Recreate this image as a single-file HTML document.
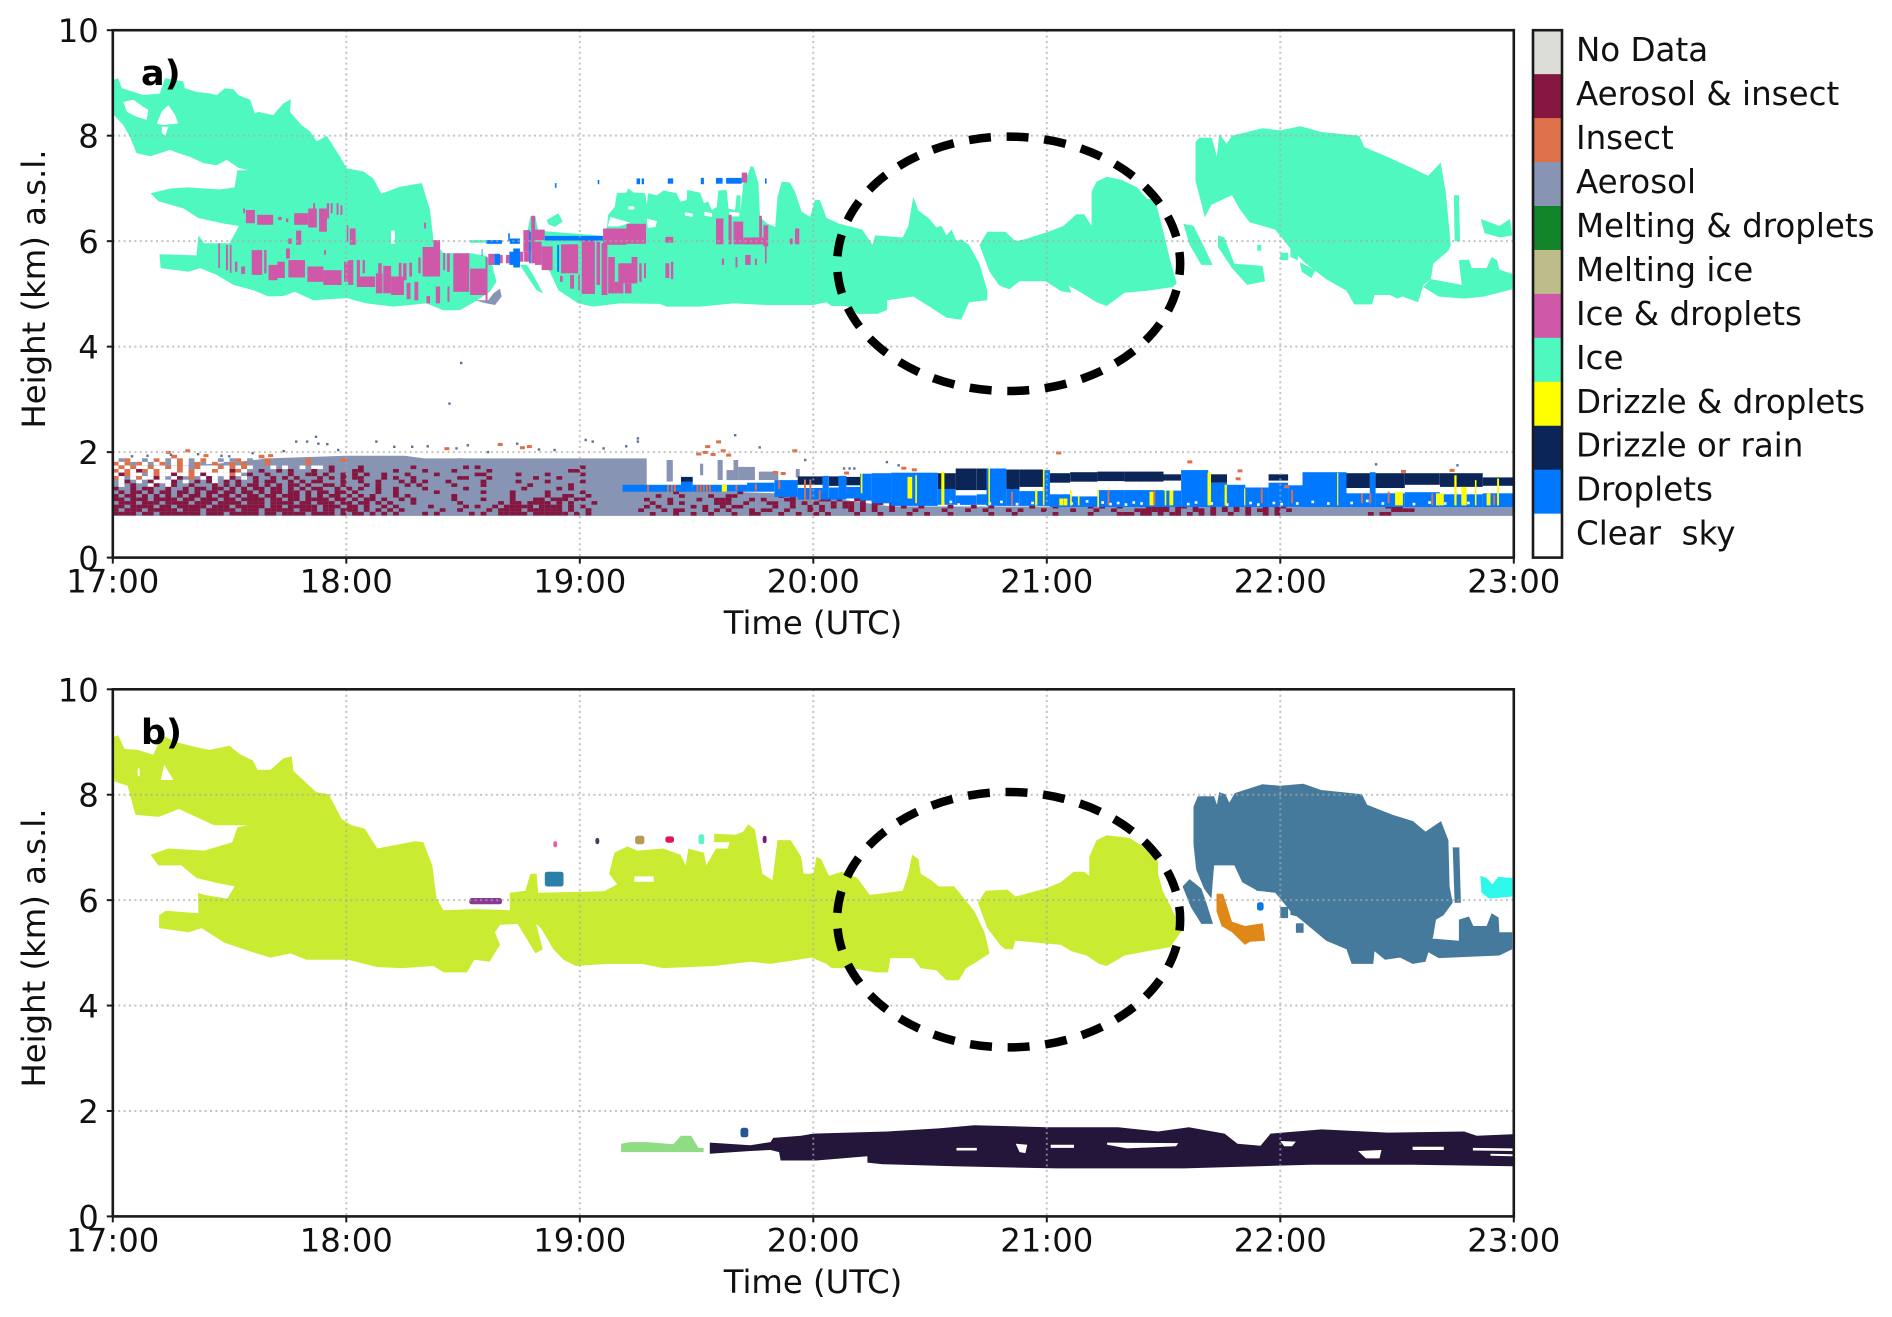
<!DOCTYPE html>
<html lang="en">
<head>
<meta charset="utf-8">
<title>Cloud classification and clusters</title>
<style>
html,body{margin:0;padding:0;background:#fff;}
svg{display:block;font-family:"DejaVu Sans","Liberation Sans",sans-serif;fill:#111;}
text{font-size:32.3px;}
</style>
</head>
<body>
<svg id="figure" xmlns="http://www.w3.org/2000/svg" width="1892" height="1317" viewBox="0 0 1892 1317">
<rect x="0" y="0" width="1892" height="1317" fill="#fff"/>
<g id="panelA"></g>
<g id="panelB"></g>
<g id="legend"></g>
<text x="813" y="634" text-anchor="middle">Time (UTC)</text>
<text x="813" y="1293" text-anchor="middle">Time (UTC)</text>
<text transform="translate(45,289) rotate(-90)" text-anchor="middle">Height (km) a.s.l.</text>
<text transform="translate(45,948) rotate(-90)" text-anchor="middle">Height (km) a.s.l.</text>
</svg>
<script>
/* All times are minutes after 17:00 UTC, all heights are km a.s.l. */
const xTickMinutes = [0, 60, 120, 180, 240, 300, 360];
const xTickLabels = ['17:00', '18:00', '19:00', '20:00', '21:00', '22:00', '23:00'];
const yTickValues = [0, 2, 4, 6, 8, 10];
const yTickLabels = ['0', '2', '4', '6', '8', '10'];
const legendLabels = ['No Data', 'Aerosol & insect', 'Insect', 'Aerosol', 'Melting & droplets', 'Melting ice', 'Ice & droplets', 'Ice', 'Drizzle & droplets', 'Drizzle or rain', 'Droplets', 'Clear  sky'];
const legendColors = ['#dcddd7', '#85163f', '#de704a', '#8794b3', '#12842a', '#bdbc8a', '#cf58a8', '#4ff8bf', '#ffff00', '#0c2558', '#0078ff', '#ffffff'];

/* Panel a: ice outlines */
const iceWest = [[0.3,9.06],[1.4,9.09],[2.3,8.9],[5.3,8.83],[7.8,8.77],[12.1,8.8],[13.4,9.09],[18.1,9.03],[18.5,8.9],[21.5,8.83],[25,8.8],[26.7,8.77],[28.8,8.9],[31,8.88],[32.3,8.77],[35.3,8.68],[36.5,8.42],[37.4,8.45],[41.2,8.39],[43.8,8.61],[45.8,8.69],[45.5,8.45],[48.5,8.2],[50.7,8.08],[52.4,7.89],[55,8.0],[56.5,7.82],[58.4,7.6],[60.1,7.38],[64.4,7.32],[66.9,7.19],[69,6.9],[73.8,7.03],[79.4,7.1],[81.5,6.59],[82.4,6.02],[84.9,5.77],[91.8,5.77],[96,5.72],[97.5,5.57],[97.8,5.45],[98.6,5.23],[96.9,5.04],[93,4.85],[89.2,4.69],[84.9,4.69],[80.6,4.82],[72.1,4.76],[65.2,4.82],[60.1,4.92],[51.5,4.88],[46.8,5.04],[43.8,4.96],[40,4.95],[36.1,5.07],[31,5.17],[26.7,5.36],[22.4,5.49],[19.5,5.42],[12.3,5.49],[12,5.75],[21.5,5.73],[22,6.11],[23.5,5.96],[30,5.96],[32.4,6.29],[28.7,6.33],[22,6.44],[18.2,6.62],[11.7,6.76],[9.7,6.91],[15,7.0],[19.5,7.02],[27.4,6.98],[31.3,7.02],[32,7.34],[34.8,7.35],[32.3,7.39],[29.3,7.54],[26.7,7.44],[23.3,7.48],[19.8,7.6],[16.8,7.67],[14.7,7.73],[9.6,7.61],[6.1,7.67],[4.4,7.98],[2.7,8.2],[0.3,8.39],[0,8.5]];
const iceWestHoleLarge = [[11.3,8.23],[12.6,8.46],[14.3,8.58],[16,8.39],[16.8,8.23],[12.6,8.2]];
const iceWestHoleSmall = [[2.7,8.64],[5.3,8.68],[7.8,8.55],[9.1,8.49],[8.7,8.3],[6.1,8.36],[3.6,8.45]];
const iceWestHoleNotch = [[12.6,8.17],[14.3,8.17],[13.5,8.0],[12.6,8.05]];
const iceWestHoleSlit = [[71.5,6.2],[72.5,6.2],[72.5,5.95],[71.5,5.95]];
const iceCentral = [[110.6,5.55],[107.3,5.82],[106,6.0],[107.3,6.47],[108.6,6.47],[109.3,6.2],[125.9,6.1],[127,6.27],[127.3,6.5],[129,6.65],[129.5,6.91],[131.9,6.92],[132.5,7.0],[133.8,6.92],[136.8,6.91],[137.2,6.69],[137.6,6.91],[139.8,6.87],[141.5,6.96],[144.9,6.91],[145.8,6.75],[147.5,6.78],[147.6,6.97],[150.9,6.92],[151.9,6.72],[153,6.75],[153.9,6.59],[155.2,6.65],[155.6,6.96],[157.7,6.97],[158.2,6.62],[159.9,6.59],[160.3,6.87],[161.3,6.87],[161.3,6.56],[162,7.1],[163.3,7.29],[163.9,7.42],[164.6,7.41],[165.9,7.1],[166.3,6.46],[168,6.34],[170.2,6.27],[170.8,6.84],[171.9,7.13],[174,7.11],[175.3,6.94],[177,6.56],[179.2,6.46],[180.4,6.78],[181.7,6.78],[183.4,6.44],[186.7,6.33],[192.6,6.22],[195.2,5.93],[195.9,6.11],[203,6.07],[204.4,6.29],[205.7,6.84],[207,6.58],[209.6,6.44],[211.6,6.26],[212.9,6.29],[214.2,6.11],[215.5,6.22],[216.8,6.0],[218,6.04],[220,5.93],[222.7,5.57],[224.7,5.06],[224.7,4.88],[220,4.84],[218,4.51],[214.2,4.55],[209.6,4.77],[205.7,4.95],[199,4.88],[199,4.7],[196.5,4.62],[191.3,4.62],[188.6,4.77],[184.7,4.77],[183.4,4.84],[180,4.79],[168,4.79],[159.5,4.82],[150.9,4.76],[142.3,4.76],[140.6,4.81],[130.3,4.82],[123.5,4.76],[119.6,4.82],[114.5,5.07],[112.3,5.42]];
const iceCentralHole = [[127.8,6.46],[131.6,6.38],[133,6.35],[130,6.28],[127.2,6.28]];
const iceCentralHoleTwo = [[137.2,6.43],[139.8,6.38],[139.5,6.27],[137.5,6.25]];
const iceCentralHoleThree = [[152,6.56],[154,6.53],[154,6.46],[152,6.48]];
const iceCentralHoleFour = [[158.3,6.56],[161,6.54],[161,6.47],[158.5,6.47]];
const iceCentralHoleFive = [[132.5,6.66],[134,6.66],[134,6.6],[132.5,6.6]];
const iceCentralHoleSix = [[147,6.55],[149,6.52],[149,6.46],[147,6.48]];
const iceEast = [[222.7,5.93],[224.7,6.18],[229.3,6.18],[232,6.0],[234.5,6.04],[240.4,6.18],[244.3,6.29],[247.6,6.51],[249.6,6.51],[251.5,6.29],[251.5,6.94],[252.8,7.13],[255.4,7.22],[259.3,7.16],[263.2,7.02],[265.8,6.8],[267.8,6.8],[269.8,6.22],[271.7,5.64],[273.4,5.2],[272.4,5.13],[265.8,5.06],[260,5.02],[255.4,4.77],[252.8,4.84],[248.9,5.02],[245.6,5.16],[246.3,5.02],[243.7,5.05],[239.7,5.24],[233,5.24],[230.4,5.09],[227.8,5.16],[225.3,5.42]];
const iceFar = [[278.2,7.88],[279.2,7.96],[282.4,7.96],[283.7,7.6],[284.3,8.03],[286.2,7.85],[287.6,8.0],[295.4,8.14],[300,8.1],[305.2,8.18],[310.5,8.07],[320.3,8.0],[321.6,7.78],[327.5,7.6],[334,7.38],[338,7.24],[341.2,7.49],[342.5,6.94],[343.8,5.93],[343.2,5.82],[339.3,5.57],[338.7,5.28],[336.8,5.17],[335.4,4.84],[331.4,4.95],[330.1,4.91],[328.2,4.98],[324.2,4.98],[323.6,4.8],[319,4.8],[317,5.06],[311.8,5.28],[306.6,5.57],[302.6,5.86],[298.7,6.22],[292.1,6.36],[289.5,6.62],[287.6,6.87],[282.3,6.69],[280.6,6.45],[279.8,6.69],[278.2,7.14]];
const iceFarLobe = [[338.7,5.28],[346.6,5.17],[345.9,5.64],[348.5,5.65],[349.2,5.49],[353,5.49],[354.3,5.7],[355.7,5.64],[356.3,5.46],[359.6,5.38],[359.6,5.09],[352.4,4.95],[347.2,4.91],[340.7,4.95],[336.7,5.13]];
const iceFarTop = [[351.5,6.42],[353,6.38],[356.3,6.29],[359,6.42],[359.6,6.11],[356.6,6.07],[352.5,6.15]];
const iceFarStripe = [[344.6,6.87],[345.9,6.87],[346.2,6.0],[344.8,6.0]];
const iceStripeOne = [[275.1,6.33],[277.7,6.29],[279.7,6.0],[282.6,5.55],[279.7,5.55],[276.7,5.93]];
const iceStripeTwo = [[284,6.11],[285.6,6.07],[288.2,5.57],[295.4,5.53],[296.1,5.24],[291.5,5.17],[287.6,5.49],[284,5.89]];
const iceBitOne = [[294.1,5.93],[295.1,5.93],[295.1,5.82],[294.1,5.82]];
const iceBitTwo = [[300,5.78],[302,5.78],[302,5.64],[300,5.64]];
const iceBitThree = [[302.6,5.86],[304.5,5.8],[304.5,5.64],[302.6,5.7]];
const iceBitFour = [[305,5.6],[309,5.45],[308,5.3],[305.5,5.42]];
const iceCurl = [[104.6,5.55],[106.4,5.55],[108,5.36],[110.6,5.01],[108.9,5.07],[106.8,5.3]];
const iceBlob = [[111.5,6.4],[114.5,6.53],[115.6,6.37],[113.6,6.27],[111.9,6.32]];
const iceSliver = [[91.8,6.02],[96,6.02],[96,5.97],[91.8,5.97]];
const aerosolCloudBit = [[97.8,5.01],[99.5,5.1],[99.9,4.95],[98.2,4.79],[96,4.82],[93,4.88],[96.5,4.88]];

/* Panel a: ice & droplets streaks */
const mixedStart = [33.5,34.2,37.1,42.5,44.5,46.6,50.2,51.5,53,55,56,57.5,58.5,47.1,45.1,60.1,60.9,80,27.1,29.1,30.1,31.4,33,35.7,38.9,40,42.3,44.5,45.1,50,54.1,54.3,59.4,60.5,62.7,62.7,64.2,67.6,68.2,69.5,71.5,73.5,74.6,75.5,76.2,77.5,78.5,79.6,80.6,82.4,83,84.9,85.9,86,87.5,91.8,95.8,96.5,99.5,101,104.6,105.7,105.5,107.5,108.5,108.5,110.2,115.2,114.9,117.5,119.6,120.5,124.3,125.6,126,132,127.3,129,129.9,131.6,133.3,135.3,136.5,142,142,143.4,155,158.2,159.5,162,166.1,167.2,167.6,156.5,160,162.5,165,174,175.3,161.6];
const mixedEnd = [34,36.5,41.2,43.4,45.1,50.2,52.4,52,55,55.6,56.5,58,59,48.4,46,60.5,62.4,80.5,27.5,29.6,30.5,32,34,38.4,39.5,42.3,44.2,45.5,49.4,54.1,58.8,54.8,60.5,61.8,63.5,67.4,64.8,69.3,69.1,71.5,74.8,74.2,75.5,76.5,76.9,78.5,79.1,82.4,81.5,84.1,84.1,85.4,86.6,86.5,91.6,96,96.3,98,100.2,101.9,105.5,107,107.2,108.5,111,110.2,113,119.6,115.6,118.5,120,123.9,125.2,127.1,132,137,129,131.2,133.8,133.3,134.8,135.9,137,144,143,144,156.9,159,162,167.2,166.8,168.4,168,157.1,160.5,163.9,165.5,174.7,176.4,163];
const mixedTop = [6.62,6.59,6.5,6.46,6.43,6.53,6.62,6.72,6.62,6.72,6.72,6.72,6.68,6.2,6.05,6.3,6.24,6.35,5.96,5.93,5.93,5.61,5.52,5.83,5.83,5.55,5.61,5.86,5.64,5.52,5.45,5.83,5.61,5.64,5.64,5.33,5.64,5.39,5.58,5.53,5.33,5.59,5.58,5.21,5.59,5.23,5.69,5.89,4.96,6.02,5.14,5.78,5.77,5.14,5.77,5.48,5.7,5.76,5.74,5.74,5.8,5.8,6.21,6.48,6.22,5.99,5.9,5.94,5.34,5.36,5.36,6.07,5.99,5.96,6.24,6.33,5.7,5.23,5.58,5.2,5.7,5.58,5.58,6.08,5.58,5.61,6.43,6.5,6.37,6.07,6.48,6.3,5.9,5.67,5.7,5.74,5.67,6.05,6.24,7.3];
const mixedBase = [6.53,6.34,6.31,6.4,6.36,6.31,6.26,6.62,6.18,6.43,6.53,6.5,6.5,5.93,5.95,5.99,5.93,6.24,5.49,5.45,5.4,5.42,5.38,5.36,5.39,5.26,5.3,5.67,5.31,5.23,5.17,5.74,5.23,5.17,5.33,5.13,5.39,5.01,5.39,5.01,4.98,5.33,5.26,4.9,5.33,4.88,5.39,5.33,4.82,5.33,4.82,5.45,5.42,4.85,5.04,4.98,4.85,5.55,5.58,5.58,5.61,5.61,5.8,5.58,6.02,5.55,5.45,5.39,5.23,5.1,5.07,5.0,5.17,4.98,5.93,5.95,5.01,5.01,5.2,5.01,5.2,5.23,5.3,5.97,5.3,5.28,5.94,5.94,5.94,5.94,6.07,5.9,5.58,5.55,5.5,5.55,5.55,5.94,5.94,7.11];

/* Panel a: elevated droplet patches */
const dropStart = [111,98,102.9,114.2,96,102,94.8,101.6,107,113.6,124.6,134.6,135.9,142.6,151.1,155,157.6,167.6,101.9];
const dropEnd = [125.9,99.5,104.6,114.7,100,104.6,95,102,107.4,114,125,135.5,136.5,144,151.9,156.7,161.6,168,104.6];
const dropTop = [6.1,5.76,5.86,5.93,6.02,6.05,5.85,6.15,6.18,7.1,7.16,7.19,7.19,7.19,7.2,7.2,7.2,7.19,5.8];
const dropBase = [6.01,5.55,5.5,5.42,5.95,5.95,5.72,6.0,5.58,7.01,7.08,7.08,7.08,7.09,7.08,7.09,7.09,7.09,5.55];

/* Panel a: boundary layer */
const aerosolLeftTop = [[0,1.75],[20,1.75],[30,1.8],[40,1.88],[60,1.93],[75,1.93],[80,1.88],[137.2,1.88],[137.2,1.38],[150,1.27],[178,1.2],[192,1.05],[200,0.97],[360,0.96],[360,0.79],[0,0.79]];
const aerosolBlobStart = [142.3,150.9,155.4,157.7,159.5,160.7,166,175.5];
const aerosolBlobEnd = [143.9,151.7,156.7,160.7,160.7,165,171,176.5];
const aerosolBlobTop = [1.85,1.78,1.85,1.66,1.85,1.72,1.63,1.68];
const aerosolBlobBase = [1.44,1.56,1.47,1.47,1.47,1.47,1.47,1.52];
const lowTimes = [131,146,149,163,170,176,182.4,184,186.5,188.5,192,195,200,212,216.6,222,224.5,229.6,233,239,240.8,246,253,260,270,274.5,281.5,286.3,291,297,302,305.7,317,323,324.5,332,341,352];
const lowDropTop = [1.38,1.47,1.38,1.42,1.47,1.32,1.55,1.33,1.55,1.34,1.59,1.6,1.61,1.3,1.18,1.2,1.69,1.3,1.26,1.66,1.2,1.16,1.28,1.28,1.27,1.66,1.42,1.38,1.33,1.42,1.37,1.62,1.22,1.62,1.22,1.24,1.2,1.22];
const lowDropBase = [1.25,1.25,1.25,1.25,1.15,1.1,1.1,1.1,1.1,1.12,1.08,1.03,0.98,1.0,1.0,1.0,0.98,0.98,0.98,0.98,0.96,0.96,0.96,0.96,0.96,0.96,0.96,0.96,0.96,0.96,0.96,0.96,0.96,0.96,0.96,0.96,0.96,0.96];
const lowRainTop = [0,1.53,0,0,0,1.54,0,1.54,0,1.53,0,0,0,1.6,1.69,1.69,0,1.67,1.67,0,1.6,1.62,1.63,1.63,1.58,0,1.58,0,0,1.58,0,0,1.6,0,1.6,1.6,1.6,1.52];
const lowRainBase = [0,1.44,0,0,0,1.38,0,1.36,0,1.37,0,0,0,1.3,1.28,1.28,0,1.3,1.34,0,1.42,1.44,1.45,1.44,1.46,0,1.42,0,0,1.46,0,0,1.32,0,1.32,1.38,1.34,1.36];
const lowEnd = 360;
const dropletGapTimes = [213,215,217,225,228,232,236,246,250,254,256,258,260,262,264,276,278,282,286,292,294,298,300,304,308,312,318,322,326,330,334,338,342,348];
const dropletGapHeights = [1.05,1.08,1.03,1.05,1.08,1.04,1.06,1.05,1.09,1.07,1.04,1.06,1.03,1.07,1.05,1.04,1.07,1.05,1.03,1.06,1.03,1.06,1.04,1.05,1.08,1.05,1.06,1.1,1.05,1.08,1.04,1.07,1.05,1.06];

const drizzleDropTimes = [156.5,192.2,204.2,206.2,212.9,225,237,239,243.2,244.3,246,248,253,266.4,270.3,271.5,281.3,285.7,290.7,314.6,329.5,340,341,344.7,346.5,350,353,355.7];
const drizzleDropWidths = [1.3,0.4,1.2,0.4,0.8,0.4,0.6,0.4,1,1,0.4,0.4,0.4,1,0.4,1,0.9,0.6,0.3,0.3,2,1,1,0.6,1.4,0.4,1,0.5];
const drizzleDropTops = [1.38,1.6,1.53,1.56,1.63,1.69,1.28,1.67,1.12,1.12,1.28,1.18,1.28,1.25,1.28,1.28,1.61,1.38,1.31,1.61,1.25,1.22,1.22,1.56,1.34,1.47,1.22,1.5];
const drizzleDropBases = [1.25,1.22,1.12,1.03,0.99,0.99,0.99,0.99,0.99,0.99,0.99,0.99,0.96,0.99,0.99,0.99,0.99,0.99,0.99,0.99,0.99,0.99,0.99,0.99,0.99,0.99,0.99,0.99];
const insectBarTimes = [137.3,142.4,143.4,144.2,150,150.8,151.6,152.4,153.2,160,165,171,177.6,179,181.4,230.8,255.6,267.4,295,302.8,320.7,322.9,327.6,338.8,354.7];
const insectBarTops = [1.38,1.38,1.38,1.38,1.38,1.38,1.38,1.38,1.38,1.38,1.4,1.47,1.48,1.48,1.28,1.25,1.28,1.28,1.31,1.28,1.22,1.22,1.25,1.22,1.19];
const insectBarBases = [1.25,1.25,1.25,1.25,1.25,1.25,1.25,1.25,1.25,1.27,1.27,1.3,1.07,1.07,1.09,0.99,0.99,0.99,1.03,1.03,1.03,1.03,1.03,0.99,0.99];

const aerosolDotTimes = [47.2,50,52.3,52.9,55.2,67.8,72.4,77,81,88.4,91.3,96.5,104,109.6,113.6,121.6,123.4,126.2,132,135,135,160,156,166.3,178,188,189.4,190.6,199,202,324.7,345.6,89.6,86.6,30,36,44,58,5,9,15,22,28];
const aerosolDotHeights = [2.2,2.2,2.29,2.16,2.15,2.2,2.1,2.1,2.11,2.07,2.13,2.0,2.16,2.05,2.04,2.23,2.2,2.07,2.11,2.26,2.2,2.32,2.2,2.09,1.85,1.69,1.69,1.69,1.81,1.75,1.77,1.75,3.69,2.92,1.92,1.98,2.02,2.04,1.92,1.93,1.95,1.96,1.93];
const insectDotTimes = [14,19,23.7,40.3,85.6,99.3,105,106.8,152.6,155.4,150.3,156.6,175,188.3,205.7,242.8,276.5,289.4,288.9,301.4,331.4,343.9,152,154,158,170,172,203];
const insectDotHeights = [2.0,2.03,1.94,1.94,2.07,2.15,2.09,2.11,2.11,2.2,1.97,2.03,2.03,1.61,1.67,1.99,1.82,1.65,1.5,1.35,1.64,1.66,2.0,1.96,1.95,1.62,1.6,1.7];

/* Panel a: speckle rasters, one character per 1.5 minutes. M aerosol & insect, I insect, A aerosol, . clear, - unchanged */
const speckleWestRows = [
"----------I--------------I----------------------------------------------------------",
"-AI--A-I-A-I-A-I--A-AI-A--I-A---AIA-A--I-------------------A------------------------",
"I-IAI-A-IA-I-AIA-I-AIAI---IA-A-A-IA-A-A-A-A-A---------------------------------------",
".I.I..I..I.I.AI...I.I.I.---.-.--.-..-M----M--------M--------M-M-----------------M---",
"I.I.MI.I...I.I...I..MI.--M--M-M---M--M---MM-----M----M----M-----M-------------MM----",
".MI..-.I..M..I.M....I.-M--M---M--MM-M--M-M-M--M---M----M------MM-----M----M-----M---",
"I.-.I..M.-.M-I-.M.-.M-.-M--M-M-M---M-M-M-MM---M-M--M-------MM---M-------M---M-------",
"-.M-.-M...M-.-M-M.-M-M--M-MM--M-M-MM---M--M--M---M-M-M---M-----M-----M----M-----M---",
"-.-M--.M-.M--M---M-M-M-MM-M-M-MM-M--MM-M---M-M----M-M-----M----M-------M------M-----",
"M--M-MM--M--M-MM-MM-M-M-MM-MM-M-M-MM--M-M-M--M--M----M------M---------M-----M-M-----",
"-M-MM-M-MM-MM-M-MM-MM-MM-M-MM-MM-M-MM-MM-M---M--M------M-------M----M-----M-----M---",
"M-MM-M-M-M-M-MM-M-MM-M-MM-MM-MMM-M-M-MM-M-M-M---M-M-------M---------M-----M--MM--M--",
"MM-MMM-MMMM-MM-MMM-MM-MMMM-MM-MM-MMMM-MM-M-MM-M--M-M------M----M----M---MM-MMM-MM---",
"-MMM-MMM-MMMM-MMM-MMMM-MMM-MMMM-MM-MMM-MM-MM-M-M---M-------M------M-MM-MMMM-M-M---M-",
"MM-MMMM-MM-MMMMM-MMM-MMMMM-MM-MMMMM-MMM-MM-M--M-M-----M-----M-M--M-MMMMM-MMMM-M-M---",
"M-MMM-MMMMM-MMM-MMMMM-MMM-MMMMM-MMM-MM-MMM-M-M-M-M------M--M----M-MMMM-MMMMMM-M--M--",
"MMMM-MM-MMMMMMM-MMM-MMMMM-MM-MMMM-MMMM-M-MM-M-M-M----M-M-----M-M--MMMMM-MMMMMM-M-M--"
];
const speckleEastRows = [
"------M----------M------------------M--------",
"---M---M----M--MM-------M-M----M-M-M---M--------",
"-M---M----M--MMM---M-M---MM----MM-M--MM-M-M-----",
"--M--M-M-----MMM--M---MM--M-M-M--M-MM-M-MM-M--M-M------",
"-M-M-----M-M--M-MM-----M--M--M-M-M-MM-M-M--M-M--M----M---M--M------M---M-----M-M--M----MMMM-MM-M--M-M-M-M--M-MM-----------------MMM",
"M---M-MM---M-M-M---M-MM--M---M-M----M-M-M--M---M----M---M--M---M-M---M----M---M--M---MMMMMM-M--MM-M-M-M-M-MM-M-M-----------------MMMM",
"--M---M--M--M---M--MM---M--M--M-M----M---M----M--M---M------M---M------M-----M----MMM-MM-M-MM-M-M-M--M--M--M-M---------------M-MM"
];

/* Panel b: cluster outlines */
const clusterMain = [[0,9.09],[1.4,9.13],[3,8.87],[6.4,8.85],[10.4,8.76],[12.7,9.13],[16.2,9.0],[21.5,8.9],[24.8,8.85],[30,8.93],[32.6,8.77],[36,8.65],[37.2,8.47],[40.5,8.47],[43.8,8.69],[46,8.73],[46.4,8.45],[52.3,8.05],[55.5,8.01],[58.8,7.54],[61.4,7.42],[64.7,7.36],[68,6.98],[77.8,7.12],[79.8,7.1],[82.1,6.66],[83.2,6.03],[85,5.81],[92.9,5.83],[102,5.81],[102,6.14],[106,6.18],[107.3,6.5],[108.9,6.5],[109.3,6.14],[126.3,6.17],[129.6,6.3],[127.5,6.5],[128.9,6.9],[132.2,7.02],[134.8,6.94],[141.4,6.98],[145.9,6.86],[147.2,6.66],[147.9,6.98],[151.9,6.9],[152.5,6.66],[155,6.98],[158,6.98],[158.5,7.1],[154.5,7.1],[154.5,7.26],[160,7.24],[162,7.3],[163.3,7.44],[165,7.34],[166.9,6.5],[169.5,6.38],[170.8,7.14],[174.2,7.14],[176.9,6.82],[177.5,6.5],[180,6.5],[180.8,6.82],[182,6.78],[184,6.46],[187.3,6.54],[191.3,6.42],[194.5,6.1],[199,6.14],[203,6.18],[204.4,6.5],[205.4,6.86],[207,6.78],[207.6,6.5],[210.3,6.38],[212.2,6.26],[216.2,6.26],[218.8,6.03],[221.4,5.79],[224,5.39],[225.3,4.99],[222,4.83],[219.3,4.71],[217.4,4.48],[214.2,4.48],[211.6,4.67],[207.6,4.71],[205.7,4.9],[199.8,4.9],[199.2,4.63],[196,4.63],[190,4.71],[184.7,4.71],[183.4,4.79],[179.5,4.91],[169,4.79],[163.8,4.83],[154.5,4.75],[141.4,4.71],[136,4.79],[127,4.79],[119,4.75],[115.8,4.87],[113.2,5.07],[111.3,5.31],[110,5.47],[108.8,5.55],[110.5,5.07],[108.6,4.99],[106,5.31],[104,5.55],[99.5,5.53],[98.2,5.39],[99.5,5.15],[96.8,4.83],[92.9,4.87],[91,4.63],[85,4.63],[82.4,4.75],[74.5,4.71],[68,4.73],[60.4,4.87],[49.7,4.87],[45.7,4.99],[40.5,4.91],[35.2,5.03],[28.7,5.19],[22.8,5.47],[19.5,5.39],[11.9,5.47],[11.9,5.71],[13.6,5.8],[22,5.75],[21.9,6.14],[23.5,6.1],[29.4,6.03],[31.3,6.26],[26,6.34],[21.5,6.42],[17.6,6.66],[11.7,6.66],[9.7,6.86],[14.3,6.98],[23.5,6.94],[30.7,7.1],[32,7.38],[34.6,7.42],[26,7.42],[17,7.73],[11.8,7.58],[5.8,7.62],[3.8,8.17],[0.5,8.25],[0,8.45]];
const clusterMainHoleOne = [[12.3,8.28],[13.2,8.57],[15.6,8.28]];
const clusterMainHoleTwo = [[134,6.45],[139,6.45],[139,6.35],[134,6.35]];
const clusterMainHoleThree = [[6.4,8.5],[6.9,8.5],[6.9,8.35],[6.4,8.35]];
const clusterEastLobe = [[222.3,5.95],[224.3,6.18],[229.9,6.2],[231.9,6.07],[239.7,6.22],[243.6,6.34],[246.9,6.54],[249.6,6.54],[250.9,6.46],[250.9,6.82],[252.8,7.14],[255.4,7.23],[261.3,7.18],[264.6,7.02],[268.6,6.74],[268.6,6.5],[269.8,6.18],[274.8,5.43],[271.7,5.11],[265.8,5.03],[260,4.95],[255.4,4.75],[253.4,4.79],[250.2,4.95],[246.3,5.03],[243.7,5.15],[231.9,5.23],[231.3,5.07],[229.3,5.07],[228,5.15],[224.7,5.47]];
const clusterSteel = [[277.7,7.77],[278.8,7.97],[283,7.97],[283.7,7.81],[284.3,8.05],[285.9,8.01],[286.9,7.85],[288.3,8.03],[295.4,8.2],[300,8.17],[305.9,8.21],[310.5,8.09],[321,8.01],[322.3,7.81],[328.8,7.62],[334.1,7.5],[337.3,7.3],[341.3,7.5],[343.2,7.14],[343.5,6.26],[344.3,5.95],[341.9,5.71],[340,5.63],[339.3,5.31],[337.3,4.83],[334,4.79],[330.8,4.91],[326.9,4.87],[324.2,5.03],[323.9,4.79],[318.3,4.79],[317,5.07],[311.8,5.23],[306.6,5.55],[302.6,5.79],[300,6.03],[298.7,6.14],[294.1,6.18],[290.2,6.34],[288.2,6.66],[283,6.66],[282.3,6.03],[280.4,6.22],[278.4,6.58],[277.7,7.06]];
const clusterSteelStripe = [[344.3,7.0],[346,7.0],[346.4,5.95],[344.8,5.95]];
const clusterSteelArm = [[274.9,6.26],[276.7,6.4],[279.7,6.22],[281,5.95],[282.7,5.55],[279.7,5.55],[277,5.87]];
const clusterSteelBitOne = [[300,5.87],[302,5.87],[302,5.66],[300,5.66]];
const clusterSteelBitTwo = [[302.6,5.92],[305,5.85],[305,5.68],[302.6,5.72]];
const clusterSteelBitThree = [[304,5.56],[306,5.56],[306,5.38],[304,5.38]];
const clusterSteelBitFour = [[293.8,6.4],[295.4,6.4],[295.4,6.18],[293.8,6.18]];
const clusterSteelLobe = [[336.7,5.15],[339.3,5.27],[345.9,5.23],[345.9,5.63],[348.5,5.69],[349.6,5.51],[353,5.51],[354.3,5.75],[356.1,5.67],[356.3,5.39],[359.6,5.39],[359.6,5.07],[356.3,4.95],[340.7,4.9],[336.7,5.07]];
const clusterCyan = [[351.4,6.46],[353,6.42],[354.5,6.3],[356,6.44],[359.6,6.42],[359.6,6.07],[353.7,6.03],[351.7,6.14]];
const clusterOrange = [[283.6,6.12],[285.3,6.12],[287.6,5.59],[290.9,5.51],[295.5,5.56],[296.1,5.23],[292.2,5.21],[290.9,5.15],[287.6,5.39],[284.9,5.51],[283.6,5.79]];
const clusterLowGreen = [[130.6,1.375],[132.8,1.41],[137.4,1.41],[144,1.37],[146,1.53],[148.6,1.53],[150.5,1.3],[151.8,1.3],[151.8,1.22],[130.6,1.22]];
const clusterDarkBand = [[153.4,1.4],[163.8,1.35],[169,1.41],[169.7,1.49],[176.9,1.53],[180,1.57],[199,1.61],[212.2,1.67],[221.4,1.73],[240,1.69],[258.3,1.69],[268.6,1.61],[276.5,1.69],[285.7,1.57],[289,1.38],[294.9,1.34],[297.5,1.57],[310.6,1.65],[327.6,1.59],[347.2,1.61],[350.5,1.53],[359.7,1.56],[360,0.95],[334,0.98],[308,0.98],[275.4,0.91],[242.6,0.91],[216.2,0.95],[197.8,0.99],[193.9,1.02],[193.9,1.14],[180.8,1.06],[171.6,1.06],[171.2,1.22],[169,1.26],[163.8,1.24],[153.4,1.19]];
const bandGapOne = [[255.5,1.4],[273.8,1.39],[273.2,1.33],[260.6,1.29],[255.5,1.36]];
const bandGapTwo = [[216.8,1.3],[222,1.3],[222,1.25],[216.8,1.25]];
const bandGapThree = [[232,1.38],[235,1.36],[234.5,1.2],[233,1.22]];
const bandGapFour = [[241,1.36],[247,1.36],[247,1.3],[241,1.3]];
const bandGapFive = [[320,1.24],[326,1.26],[325.5,1.1],[322,1.1]];
const bandGapSix = [[334,1.32],[342,1.32],[342,1.26],[334,1.26]];
const bandGapSeven = [[349.5,1.3],[359.7,1.29],[359.7,1.24],[349.5,1.25]];
const bandGapEight = [[300,1.43],[304,1.42],[303,1.33],[301,1.33]];
const bandGapNine = [[354,1.19],[359.7,1.18],[359.7,1.14],[354,1.15]];
const clusterBoxStart = [91.6,111,113.2,124,134.2,142,150.5,167,161.3,294];
const clusterBoxEnd = [100,115.8,114.2,125,136.6,144.2,152,168,163.3,295.7];
const clusterBoxTop = [6.04,6.54,7.12,7.18,7.22,7.21,7.25,7.22,1.68,5.96];
const clusterBoxBase = [5.92,6.26,7.0,7.06,7.06,7.09,7.06,7.08,1.5,5.8];
const clusterBoxColor = ['#8a3a95', '#2a80a8', '#ea5cb4', '#4a3a60', '#b89a58', '#e3145e', '#5ff2c8', '#7a1a70', '#2a5590', '#0a78e0'];

/* Axis functions */
const NS = 'http://www.w3.org/2000/svg';
const axisLeft = 112.8;
const axisRight = 1513.8;
const axisASpan = [30.2, 557.6];
const axisBSpan = [689.3, 1216.4];
function xScale(minute) { return axisLeft + minute * (axisRight - axisLeft) / 360; }
function yScaleA(km) { return axisASpan[1] - km * (axisASpan[1] - axisASpan[0]) / 10; }
function yScaleB(km) { return axisBSpan[1] - km * (axisBSpan[1] - axisBSpan[0]) / 10; }
function make(tag, parent) {
  const node = document.createElementNS(NS, tag);
  parent.appendChild(node);
  return node;
}
function ringPath(points, yScale) {
  return points.map((p, i) => (i ? 'L' : 'M') + xScale(p[0]).toFixed(1) + ' ' + yScale(p[1]).toFixed(1)).join('') + 'Z';
}
function drawRegion(parent, rings, yScale, fill, name) {
  const el = make('path', parent);
  el.setAttribute('d', rings.map(r => ringPath(r, yScale)).join(''));
  el.setAttribute('fill', fill);
  el.setAttribute('fill-rule', 'evenodd');
  
  
  return el;
}
function drawBox(parent, start, end, top, base, yScale, fill, name) {
  const el = make('rect', parent);
  el.setAttribute('x', xScale(start).toFixed(1));
  el.setAttribute('y', yScale(top).toFixed(1));
  el.setAttribute('width', (xScale(end) - xScale(start)).toFixed(1));
  el.setAttribute('height', (yScale(base) - yScale(top)).toFixed(1));
  el.setAttribute('fill', fill);
  
  
  return el;
}
function drawAxes(parent, span, yScale) {
  xTickMinutes.forEach((minute, i) => {
    const grid = make('line', parent);
    grid.setAttribute('x1', xScale(minute));
    grid.setAttribute('x2', xScale(minute));
    grid.setAttribute('y1', span[0]);
    grid.setAttribute('y2', span[1]);
    grid.setAttribute('stroke', '#aaa');
    grid.setAttribute('stroke-opacity', '0.7');
    grid.setAttribute('stroke-width', '2');
    grid.setAttribute('stroke-dasharray', '2 3.4');
    
    
    const tick = make('line', parent);
    tick.setAttribute('x1', xScale(minute));
    tick.setAttribute('x2', xScale(minute));
    tick.setAttribute('y1', span[1]);
    tick.setAttribute('y2', span[1] + 6);
    tick.setAttribute('stroke', '#1a1a1a');
    tick.setAttribute('stroke-width', '2');
    
    
    const label = make('text', parent);
    label.setAttribute('x', xScale(minute));
    label.setAttribute('y', span[1] + 35);
    label.setAttribute('text-anchor', 'middle');
    label.textContent = xTickLabels[i];
    
    
  });
  yTickValues.forEach((value, i) => {
    if (value > 0 && value < 10) {
      const grid = make('line', parent);
      grid.setAttribute('x1', axisLeft);
      grid.setAttribute('x2', axisRight);
      grid.setAttribute('y1', yScale(value));
      grid.setAttribute('y2', yScale(value));
      grid.setAttribute('stroke', '#aaa');
      grid.setAttribute('stroke-opacity', '0.7');
      grid.setAttribute('stroke-width', '2');
      grid.setAttribute('stroke-dasharray', '2 3.4');
      
      
    }
    const tick = make('line', parent);
    tick.setAttribute('x1', axisLeft - 6);
    tick.setAttribute('x2', axisLeft);
    tick.setAttribute('y1', yScale(value));
    tick.setAttribute('y2', yScale(value));
    tick.setAttribute('stroke', '#1a1a1a');
    tick.setAttribute('stroke-width', '2');
    
    
    const label = make('text', parent);
    label.setAttribute('x', axisLeft - 14);
    label.setAttribute('y', yScale(value) + 12);
    label.setAttribute('text-anchor', 'end');
    label.textContent = yTickLabels[i];
    
    
  });
  const frame = make('rect', parent);
  frame.setAttribute('x', axisLeft);
  frame.setAttribute('y', span[0]);
  frame.setAttribute('width', axisRight - axisLeft);
  frame.setAttribute('height', span[1] - span[0]);
  frame.setAttribute('fill', 'none');
  frame.setAttribute('stroke', '#1a1a1a');
  frame.setAttribute('stroke-width', '2.6');
  
  
}
function drawCallout(parent, cx, cy, ry) {
  const el = make('ellipse', parent);
  el.setAttribute('cx', xScale(cx));
  el.setAttribute('cy', cy);
  el.setAttribute('rx', '171.5');
  el.setAttribute('ry', ry);
  el.setAttribute('fill', 'none');
  el.setAttribute('stroke', '#000');
  el.setAttribute('stroke-width', '8.5');
  el.setAttribute('stroke-dasharray', '22 15.7');
  el.setAttribute('stroke-dashoffset', '11');
  
  
}
function drawPanelLabel(parent, letter, y) {
  const el = make('text', parent);
  el.setAttribute('x', '141');
  el.setAttribute('y', y);
  el.setAttribute('font-weight', 'bold');
  el.setAttribute('fill', '#000');
  el.setAttribute('style', 'font-size:35px');
  el.textContent = letter;
  
  
}
function drawSpeckle(parent, rows, startMinute, topKm, yScale) {
  const stepMin = 1.5;
  const stepKm = 0.0676;
  const palette = { M: '#85163f', I: '#de704a', A: '#8794b3', '.': '#ffffff' };
  rows.forEach((row, r) => {
    row.split('').forEach((ch, c) => {
      if (!palette[ch]) return;
      drawBox(parent, startMinute + c * stepMin, startMinute + (c + 1) * stepMin, topKm - r * stepKm, topKm - (r + 1) * stepKm, yScale, palette[ch], 'classification-pixel');
    });
  });
}
function drawDots(parent, times, heights, fill, name) {
  times.forEach((t, i) => {
    const el = make('rect', parent);
    el.setAttribute('x', (xScale(t) - 1.5).toFixed(1));
    el.setAttribute('y', (yScaleA(heights[i]) - 1.2).toFixed(1));
    el.setAttribute('width', fill === '#de704a' ? '5' : '2.4');
    el.setAttribute('height', fill === '#de704a' ? '3' : '2.4');
    el.setAttribute('fill', fill);
    
    
  });
}

/* Panel a */
const panelA = document.getElementById('panelA');
const ICE = '#4ff8bf', MIXED = '#cf58a8', DROP = '#0078ff', AEROSOL = '#8794b3', RAIN = '#0c2558', YEL = '#ffff00', INSECT = '#de704a';
drawRegion(panelA, [iceWest, iceWestHoleLarge, iceWestHoleSmall, iceWestHoleNotch, iceWestHoleSlit], yScaleA, ICE, 'ice-cloud-west');
drawRegion(panelA, [iceCentral, iceCentralHole, iceCentralHoleTwo, iceCentralHoleThree, iceCentralHoleFour, iceCentralHoleFive, iceCentralHoleSix], yScaleA, ICE, 'ice-cloud-central');
drawRegion(panelA, [iceEast], yScaleA, ICE, 'ice-cloud-east');
drawRegion(panelA, [iceFar], yScaleA, ICE, 'ice-cloud-far');
[iceFarLobe, iceFarTop, iceFarStripe, iceStripeOne, iceStripeTwo, iceBitOne, iceBitTwo, iceBitThree, iceBitFour, iceCurl, iceBlob, iceSliver].forEach(part => {
  drawRegion(panelA, [part], yScaleA, ICE, 'ice-cloud-fragment');
});
mixedStart.forEach((s, i) => { drawBox(panelA, s, mixedEnd[i], mixedTop[i], mixedBase[i], yScaleA, MIXED, 'ice-droplet-streak'); });
dropStart.forEach((s, i) => { drawBox(panelA, s, dropEnd[i], dropTop[i], dropBase[i], yScaleA, DROP, 'elevated-droplet-patch'); });
drawRegion(panelA, [aerosolCloudBit], yScaleA, AEROSOL, 'aerosol-fragment');
drawRegion(panelA, [aerosolLeftTop], yScaleA, AEROSOL, 'aerosol-layer');
drawSpeckle(panelA, speckleWestRows, 0, 1.95, yScaleA);
drawSpeckle(panelA, speckleEastRows, 135, 1.27, yScaleA);
aerosolBlobStart.forEach((s, i) => { drawBox(panelA, s, aerosolBlobEnd[i], aerosolBlobTop[i], aerosolBlobBase[i], yScaleA, AEROSOL, 'aerosol-patch'); });
lowTimes.forEach((t, i) => {
  const end = i + 1 < lowTimes.length ? lowTimes[i + 1] : lowEnd;
  drawBox(panelA, t, end, lowDropTop[i], lowDropBase[i], yScaleA, DROP, 'droplet-column');
  if (lowRainTop[i] > 0) {
    drawBox(panelA, t, end, lowRainTop[i], lowRainBase[i], yScaleA, RAIN, 'drizzle-column');
  }
});
dropletGapTimes.forEach((t, i) => { drawBox(panelA, t, t + 0.7, dropletGapHeights[i], dropletGapHeights[i] - 0.05, yScaleA, '#ffffff', 'droplet-gap'); });
drizzleDropTimes.forEach((t, i) => { drawBox(panelA, t, t + drizzleDropWidths[i], drizzleDropTops[i], drizzleDropBases[i], yScaleA, YEL, 'drizzle-droplet-bar'); });
insectBarTimes.forEach((t, i) => { drawBox(panelA, t, t + 0.5, insectBarTops[i], insectBarBases[i], yScaleA, INSECT, 'insect-bar'); });
drawDots(panelA, aerosolDotTimes, aerosolDotHeights, '#5f6f9c', 'aerosol-dot');
drawDots(panelA, insectDotTimes, insectDotHeights, '#de704a', 'insect-dot');
drawAxes(panelA, axisASpan, yScaleA);
drawCallout(panelA, 230.2, 263.8, 127.2);
drawPanelLabel(panelA, 'a)', 85);

/* Panel b */
const panelB = document.getElementById('panelB');
const LIME = '#c9ec32', STEEL = '#457a9d', DARK = '#24163b';
drawRegion(panelB, [clusterMain, clusterMainHoleOne, clusterMainHoleTwo, clusterMainHoleThree], yScaleB, LIME, 'cluster-main');
drawRegion(panelB, [clusterEastLobe], yScaleB, LIME, 'cluster-main-east-lobe');
drawRegion(panelB, [clusterSteel], yScaleB, STEEL, 'cluster-steel');
[clusterSteelStripe, clusterSteelArm, clusterSteelBitOne, clusterSteelBitTwo, clusterSteelBitThree, clusterSteelBitFour, clusterSteelLobe].forEach(part => {
  drawRegion(panelB, [part], yScaleB, STEEL, 'cluster-steel-fragment');
});
drawRegion(panelB, [clusterCyan], yScaleB, '#2ef8ec', 'cluster-cyan');
drawRegion(panelB, [clusterOrange], yScaleB, '#e08817', 'cluster-orange');
drawRegion(panelB, [clusterLowGreen], yScaleB, '#8fdc85', 'cluster-low-green');
drawRegion(panelB, [clusterDarkBand, bandGapOne, bandGapTwo, bandGapThree, bandGapFour, bandGapFive, bandGapSix, bandGapSeven, bandGapEight, bandGapNine], yScaleB, DARK, 'cluster-dark-band');
clusterBoxStart.forEach((s, i) => {
  const el = drawBox(panelB, s, clusterBoxEnd[i], clusterBoxTop[i], clusterBoxBase[i], yScaleB, clusterBoxColor[i], 'small-cluster');
  el.setAttribute('rx', '2.5');
});
drawAxes(panelB, axisBSpan, yScaleB);
drawCallout(panelB, 230.2, 919.7, 127.7);
drawPanelLabel(panelB, 'b)', 744);

/* Legend */
const legend = document.getElementById('legend');
const legendTop = 30.2, legendBottom = 557.6, legendX = 1533, legendW = 29;
const legendStep = (legendBottom - legendTop) / legendLabels.length;
legendLabels.forEach((labelText, i) => {
  const swatch = make('rect', legend);
  swatch.setAttribute('x', legendX);
  swatch.setAttribute('y', legendTop + i * legendStep);
  swatch.setAttribute('width', legendW);
  swatch.setAttribute('height', legendStep + 0.4);
  swatch.setAttribute('fill', legendColors[i]);
  
  
  const label = make('text', legend);
  label.setAttribute('x', '1576');
  label.setAttribute('y', legendTop + (i + 0.5) * legendStep + 9);
  label.setAttribute('xml:space', 'preserve');
  label.setAttribute('style', 'white-space:pre;font-size:32.5px');
  label.textContent = labelText;
  
  
});
const legendFrame = make('rect', legend);
legendFrame.setAttribute('x', legendX);
legendFrame.setAttribute('y', legendTop);
legendFrame.setAttribute('width', legendW);
legendFrame.setAttribute('height', legendBottom - legendTop);
legendFrame.setAttribute('fill', 'none');
legendFrame.setAttribute('stroke', '#1a1a1a');
legendFrame.setAttribute('stroke-width', '2.6');


</script>
</body>
</html>
